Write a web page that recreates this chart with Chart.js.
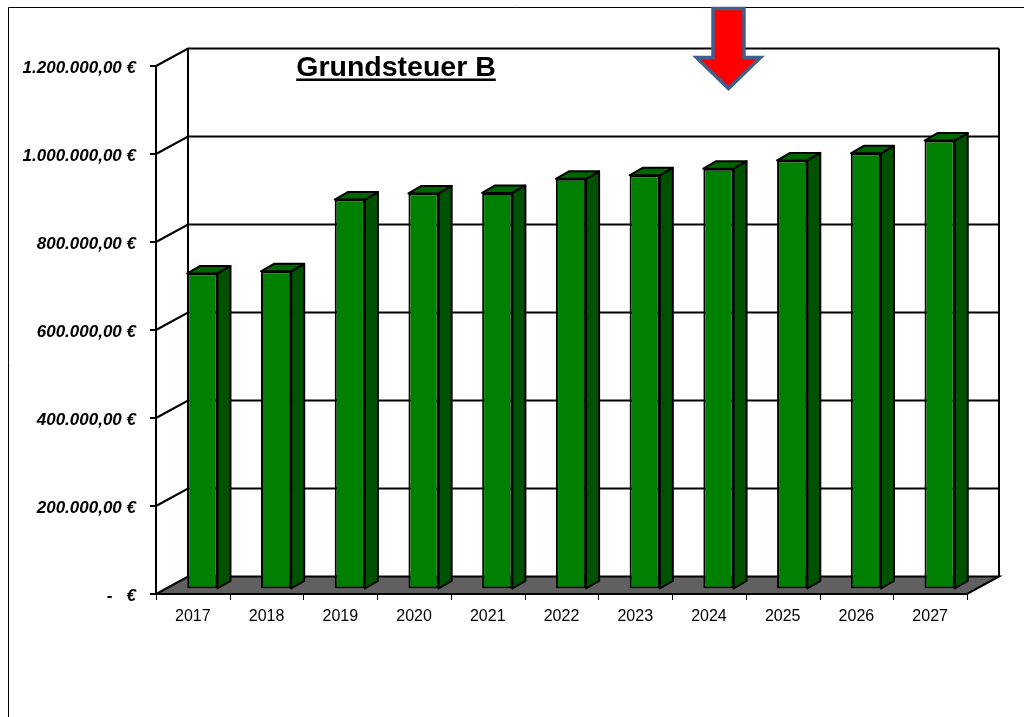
<!DOCTYPE html>
<html>
<head>
<meta charset="utf-8">
<script src="https://cdn.jsdelivr.net/npm/chart.js@4/dist/chart.umd.min.js"></script>
<style>
  body { margin: 0; background: #fff; }
  #wrap { position: relative; width: 1024px; height: 717px; }
</style>
</head>
<body>
<div id="wrap"><canvas id="chart" width="1024" height="717"></canvas></div>
<script>
// categories and values
const years = ["2017", "2018", "2019", "2020", "2021", "2022", "2023", "2024", "2025", "2026", "2027"];
const grundsteuerB = [716000, 721000, 884000, 898000, 899000, 931000, 939000, 954000, 973000, 989000, 1018000];
const yTicks = [0, 200000, 400000, 600000, 800000, 1000000, 1200000];
const chartTitle = "Grundsteuer B";

//depth of the 3d box, where the bars sit in it and how deep they are
const depth = { x: 32, y: -17.5 };
const barOff = { x: 9.5, y: -5.5 };
const barDepth = { x: 13, y: -7.5 };

const FONT = "'Liberation Sans', Arial, sans-serif";

//german currency format, zero shows as a dash
const euro = (v) => {
  if (v === 0) return "-   €";
  let [i, d] = v.toFixed(2).split(".");
  i = i.replace(/\B(?=(\d{3})+(?!\d))/g, ".");
  return i + "," + d + " €";
};

const poly = (ctx, pts, fill) => {
  ctx.beginPath();
  ctx.moveTo(pts[0][0], pts[0][1]);
  for (let k = 1; k < pts.length; k++) ctx.lineTo(pts[k][0], pts[k][1]);
  ctx.closePath();
  if (fill) { ctx.fillStyle = fill; ctx.fill(); }
  ctx.stroke();
};

//walls, floor and gridlines behind the bars
const box3d = {
  id: "box3d",
  beforeDatasetsDraw: chart => {
    const ctx = chart.ctx;
    const a = chart.chartArea;
    const y = chart.scales.y;
    ctx.save();
    ctx.strokeStyle = "#000";
    ctx.lineWidth = 2;
    ctx.lineJoin = "miter";
    //gridlines: diagonal on the left wall, then across the back wall
    yTicks.forEach(v => {
      if (v === 0) return;
      const py = y.getPixelForValue(v);
      ctx.beginPath();
      ctx.moveTo(a.left, py);
      ctx.lineTo(a.left + depth.x, py + depth.y);
      ctx.lineTo(a.right + depth.x, py + depth.y);
      ctx.stroke();
    });
    //back wall edges
    ctx.beginPath();
    ctx.moveTo(a.left + depth.x, a.top + depth.y);
    ctx.lineTo(a.left + depth.x, a.bottom + depth.y);
    ctx.moveTo(a.right + depth.x, a.top + depth.y);
    ctx.lineTo(a.right + depth.x, a.bottom + depth.y);
    ctx.stroke();
    //floor
    poly(ctx, [
      [a.left, a.bottom], [a.right, a.bottom],
      [a.right + depth.x, a.bottom + depth.y], [a.left + depth.x, a.bottom + depth.y]
    ], "#606060");
    //front value axis with tick marks
    ctx.beginPath();
    ctx.moveTo(a.left, a.top);
    ctx.lineTo(a.left, a.bottom);
    yTicks.forEach(v => {
      const py = y.getPixelForValue(v);
      ctx.moveTo(a.left - 6, py);
      ctx.lineTo(a.left, py);
    });
    ctx.stroke();
    //category tick marks under the floor
    ctx.lineWidth = 1;
    ctx.beginPath();
    const step = (a.right - a.left) / years.length;
    for (let k = 0; k <= years.length; k++) {
      const px = Math.round(a.left + k * step) + 0.5;
      ctx.moveTo(px, a.bottom);
      ctx.lineTo(px, a.bottom + 6);
    }
    ctx.stroke();
    ctx.restore();
    //bars themselves are pushed a bit into the box
    ctx.save();
    ctx.translate(barOff.x, barOff.y);
  },
  afterDatasetsDraw: chart => {
    const ctx = chart.ctx;
    ctx.restore();
    ctx.save();
    ctx.strokeStyle = "#000";
    ctx.lineWidth = 2;
    ctx.lineJoin = "round";
    chart.getDatasetMeta(0).data.forEach(bar => {
      const p = bar.getProps(["x", "y", "base", "width"], true);
      const L = p.x - p.width / 2 + barOff.x;
      const R = p.x + p.width / 2 + barOff.x;
      const T = p.y + barOff.y;
      const B = p.base + barOff.y;
      //side face
      poly(ctx, [[R, T], [R + barDepth.x, T + barDepth.y], [R + barDepth.x, B + barDepth.y], [R, B]], "#005200");
      //top face
      poly(ctx, [[L, T], [L + barDepth.x, T + barDepth.y], [R + barDepth.x, T + barDepth.y], [R, T]], "#006600");
    });
    ctx.restore();
  },
  afterDraw: chart => {
    const ctx = chart.ctx;
    ctx.save();
    //frame of the sheet (top and left edge)
    ctx.strokeStyle = "#000";
    ctx.lineWidth = 1;
    ctx.beginPath();
    ctx.moveTo(1024, 7.5);
    ctx.lineTo(8.5, 7.5);
    ctx.lineTo(8.5, 717);
    ctx.stroke();
    //title, bold and underlined
    ctx.font = "bold 28.5px " + FONT;
    ctx.fillStyle = "#000";
    ctx.textAlign = "left";
    ctx.textBaseline = "alphabetic";
    const w = ctx.measureText(chartTitle).width;
    const tx = 396 - w / 2;
    ctx.fillText(chartTitle, tx, 76);
    ctx.fillRect(tx, 78.5, w, 2.5);
    //red arrow pointing at 2024
    const cx = 728.5;
    ctx.beginPath();
    ctx.moveTo(cx - 15.5, 8.5);
    ctx.lineTo(cx + 15.5, 8.5);
    ctx.lineTo(cx + 15.5, 57.5);
    ctx.lineTo(cx + 32, 57.5);
    ctx.lineTo(cx, 88.5);
    ctx.lineTo(cx - 32, 57.5);
    ctx.lineTo(cx - 15.5, 57.5);
    ctx.closePath();
    ctx.fillStyle = "#ff0000";
    ctx.fill();
    ctx.strokeStyle = "#3f608c";
    ctx.lineWidth = 3.5;
    ctx.lineJoin = "miter";
    ctx.stroke();
    ctx.restore();
  }
};

new Chart(document.getElementById("chart"), {
  type: "bar",
  plugins: [box3d],
  data: {
    labels: years,
    datasets: [{
      data: grundsteuerB,
      backgroundColor: "#008000",
      borderColor: "#000",
      borderWidth: 2,
      borderSkipped: false,
      categoryPercentage: 1,
      barPercentage: 0.41
    }]
  },
  options: {
    responsive: false,
    animation: false,
    layout: { padding: { left: 0, right: 57, top: 66, bottom: 83 } },
    plugins: {
      legend: { display: false },
      tooltip: { enabled: false },
      title: { display: false }
    },
    scales: {
      x: {
        grid: { display: false, drawTicks: false },
        border: { display: false },
        ticks: { color: "#000", padding: 13, maxRotation: 0, font: { family: FONT, size: 16 } },
        afterFit: s => { s.height = 40; }
      },
      y: {
        min: 0,
        max: 1200000,
        afterBuildTicks: s => { s.ticks = yTicks.map(v => ({ value: v })); },
        grid: { display: false, drawTicks: false },
        border: { display: false },
        ticks: {
          color: "#000",
          padding: 20,
          labelOffset: 2,
          callback: v => euro(v),
          font: { family: FONT, size: 17, weight: "bold", style: "italic" }
        },
        afterFit: s => { s.width = 156; }
      }
    }
  }
});
</script>
</body>
</html>
